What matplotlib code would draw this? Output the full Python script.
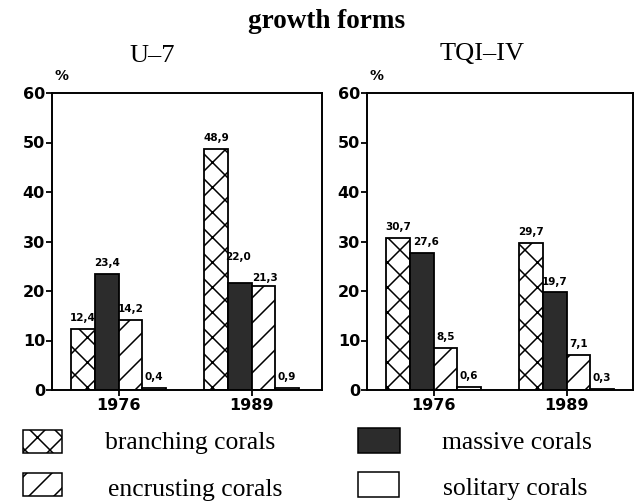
import numpy as np
import matplotlib
matplotlib.use("Agg")
import matplotlib.pyplot as plt
from matplotlib.patches import Rectangle

# -- data
years = ['1976', '1989']
sites = ['U\u20137', 'TQI\u2013IV']
forms = ['branching corals', 'massive corals', 'encrusting corals', 'solitary corals']
u7_values = [[12.4, 23.4, 14.2, 0.4],
             [48.6, 21.6, 21.0, 0.5]]
u7_labels = [['12,4', '23,4', '14,2', '0,4'],
             ['48,9', '22,0', '21,3', '0,9']]
tqi_values = [[30.7, 27.6, 8.5, 0.6],
              [29.7, 19.7, 7.1, 0.3]]
tqi_labels = [['30,7', '27,6', '8,5', '0,6'],
              ['29,7', '19,7', '7,1', '0,3']]

face_colors = ['white', '#2c2c2c', 'white', 'white']
hatches = ['x', None, '/', None]

# dpi chosen so the hatch spacing matches the scanned original
DPI = 75
def pt(v):
    return v * 100.0 / DPI

W, H = 643, 501
plt.rcParams['hatch.linewidth'] = pt(1.1)
sans = 'DejaVu Sans'
serif = 'Liberation Serif'

fig = plt.figure(figsize=(W / DPI, H / DPI), dpi=DPI)
ax_pos = [[52/W, 1-390/H, 270/W, 297/H],
          [367/W, 1-390/H, 266/W, 297/H]]
xlims = [(-0.50, 1.53), (-0.50, 1.50)]
title_xy = [(152, 62), (482, 60)]
# extra lift / shift for crowded value labels (panel, year, form): (dy, dx)
label_nudge = {(0, 1, 1): (3.0, -0.01), (0, 1, 2): (-0.5, 0.015), (1, 0, 1): (0.0, 0.03)}

bar_w = 0.177
x = np.arange(len(years))
for k, (vals, labs) in enumerate([(u7_values, u7_labels), (tqi_values, tqi_labels)]):
    ax = fig.add_axes(ax_pos[k])
    vals = np.array(vals)
    for j in range(len(forms)):
        xs = x + (j - 1.5) * bar_w
        ax.bar(xs, vals[:, j], bar_w, color=face_colors[j], edgecolor='black',
               hatch=hatches[j], linewidth=pt(1.3), zorder=2)
        for i in range(len(years)):
            dy, dx = label_nudge.get((k, i, j), (0.0, 0.0))
            ax.text(xs[i] + dx, vals[i, j] + 1.2 + dy, labs[i][j], ha='center',
                    va='bottom', fontsize=pt(7.5), fontweight='bold', family=sans)
    ax.set_xlim(*xlims[k])
    ax.set_ylim(0, 60)
    ax.set_yticks(np.arange(0, 61, 10))
    ax.set_xticks(x)
    ax.set_xticklabels(years)
    ax.tick_params(axis='y', length=pt(4), width=pt(1.3), direction='out', pad=pt(1))
    ax.tick_params(axis='x', length=pt(4), width=pt(1.3), direction='out', pad=pt(2))
    for lab in ax.get_yticklabels() + ax.get_xticklabels():
        lab.set_fontsize(pt(11.5))
        lab.set_fontweight('bold')
        lab.set_family(sans)
    for sp in ax.spines.values():
        sp.set_linewidth(pt(1.4))
    ax.text(0.01, 1.035, '%', transform=ax.transAxes, ha='left', va='bottom',
            fontsize=pt(10), fontweight='bold', family=sans)
    tx, ty = title_xy[k]
    fig.text(tx / W, 1 - ty / H, sites[k], ha='center', va='baseline',
             fontsize=pt(19), family=serif)

fig.text(327 / W, 1 - 28 / H, 'growth forms', ha='center', va='baseline',
         fontsize=pt(19.5), fontweight='bold', family=serif)

# -- legend
leg_boxes = [(23, 430, 39, 23), (358, 428, 42, 25), (23, 473, 39, 23), (358, 472, 41, 25)]
leg_text = [(105, 449), (442, 449), (108, 496), (443, 495)]
for j, (bx, by, bw, bh) in enumerate(leg_boxes):
    r = Rectangle((bx / W, 1 - (by + bh) / H), bw / W, bh / H, transform=fig.transFigure,
                  facecolor=face_colors[j], edgecolor='black', hatch=hatches[j],
                  linewidth=pt(1.1))
    fig.patches.append(r)
    lx, ly = leg_text[j]
    fig.text(lx / W, 1 - ly / H, forms[j], ha='left', va='baseline',
             fontsize=pt(18.5), family=serif)

fig.savefig('out.png', dpi=DPI)
